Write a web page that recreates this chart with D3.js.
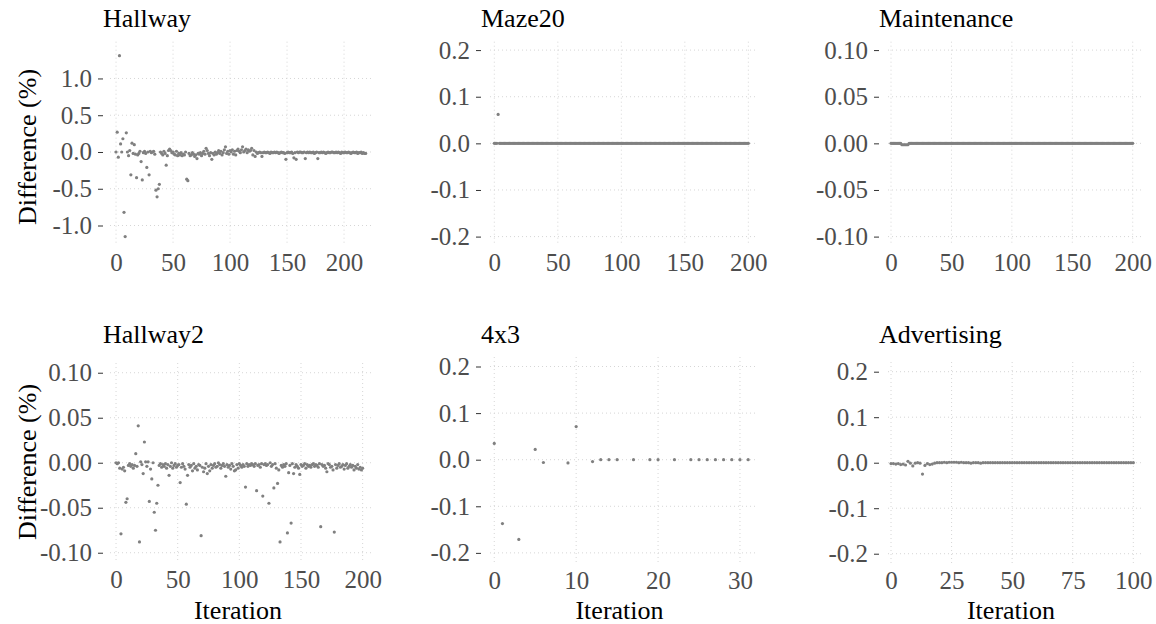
<!DOCTYPE html>
<html>
<head>
<meta charset="utf-8">
<script src="https://cdn.jsdelivr.net/npm/d3@7.9.0/dist/d3.min.js"></script>
</head>
<body style="margin:0">
<svg id="chart" width="1156" height="624" font-family="Liberation Serif"></svg>
<script>
// ---- data (difference in %, one value per iteration unless iterations given) ----
const hallwayDiff = [
  0.00, 0.27, -0.07, 1.31, 0.11, 0.00, 0.18, -0.82, -1.15, 0.26,
  0.00, -0.05, 0.02, -0.31, 0.12, -0.02, 0.10, -0.03, -0.35, -0.04,
  -0.02, 0.01, -0.13, -0.38, -0.01, 0.01, -0.02, -0.21, 0.00, -0.31,
  0.01, -0.01, 0.00, 0.01, -0.03, -0.52, -0.61, -0.50, -0.44, 0.00,
  -0.02, -0.04, 0.01, -0.02, -0.18, -0.05, 0.02, 0.04, 0.02, -0.01,
  0.00, -0.03, -0.04, 0.01, -0.05, -0.02, -0.04, -0.01, -0.05, -0.03,
  -0.04, 0.00, -0.37, -0.39, -0.02, -0.05, -0.04, -0.01, -0.03, -0.06,
  -0.04, -0.09, -0.02, -0.03, -0.01, -0.05, -0.02, 0.01, -0.03, 0.05,
  0.02, -0.02, -0.05, -0.01, -0.10, -0.02, -0.04, 0.00, -0.03, -0.01,
  0.02, -0.02, 0.01, -0.04, -0.01, 0.03, 0.07, -0.02, 0.01, -0.03,
  0.02, 0.00, 0.03, -0.03, 0.01, -0.04, 0.02, 0.04, 0.01, -0.01,
  0.03, 0.07, 0.00, 0.02, 0.04, -0.01, 0.03, 0.01, 0.02, 0.05,
  -0.04, 0.02, -0.06, 0.00, -0.02, -0.01, 0.00, -0.01, -0.06, -0.01,
  0.00, -0.01, -0.01, 0.00, -0.01, -0.02, 0.00, -0.01, -0.01, 0.00,
  -0.01, 0.00, -0.01, -0.02, -0.01, 0.00, -0.01, -0.01, -0.02, -0.10,
  -0.01, 0.00, -0.01, -0.01, 0.00, -0.02, -0.08, -0.01, -0.10, 0.00,
  -0.01, 0.00, 0.00, -0.01, -0.01, 0.00, -0.09, -0.01, 0.00, -0.01,
  0.00, -0.01, -0.01, 0.00, -0.02, -0.01, 0.00, -0.09, -0.01, -0.01,
  0.00, -0.01, 0.00, -0.01, -0.02, -0.01, 0.00, -0.01, -0.01, 0.00,
  0.00, -0.01, -0.01, 0.00, -0.01, 0.00, -0.01, -0.02, 0.00, -0.01,
  -0.01, 0.00, -0.01, -0.01, 0.00, -0.01, -0.02, -0.01, 0.00, -0.01,
  -0.01, 0.00, -0.02, -0.01, -0.01, 0.00, -0.02, -0.01, -0.02, -0.02
];

const maze20Diff = [
  0, 0, 0, 0.062, 0, 0, 0, 0, 0, 0, 0, 0, 0, 0, 0, 0, 0, 0, 0, 0,
  0, 0, 0, 0, 0, 0, 0, 0, 0, 0, 0, 0, 0, 0, 0, 0, 0, 0, 0, 0,
  0, 0, 0, 0, 0, 0, 0, 0, 0, 0, 0, 0, 0, 0, 0, 0, 0, 0, 0, 0,
  0, 0, 0, 0, 0, 0, 0, 0, 0, 0, 0, 0, 0, 0, 0, 0, 0, 0, 0, 0,
  0, 0, 0, 0, 0, 0, 0, 0, 0, 0, 0, 0, 0, 0, 0, 0, 0, 0, 0, 0,
  0, 0, 0, 0, 0, 0, 0, 0, 0, 0, 0, 0, 0, 0, 0, 0, 0, 0, 0, 0,
  0, 0, 0, 0, 0, 0, 0, 0, 0, 0, 0, 0, 0, 0, 0, 0, 0, 0, 0, 0,
  0, 0, 0, 0, 0, 0, 0, 0, 0, 0, 0, 0, 0, 0, 0, 0, 0, 0, 0, 0,
  0, 0, 0, 0, 0, 0, 0, 0, 0, 0, 0, 0, 0, 0, 0, 0, 0, 0, 0, 0,
  0, 0, 0, 0, 0, 0, 0, 0, 0, 0, 0, 0, 0, 0, 0, 0, 0, 0, 0, 0,
  0
];

const maintenanceDiff = [
  0, 0, 0, 0, 0, 0, 0, 0, 0, -0.0015, -0.0015, -0.0015, -0.0015, -0.0015, -0.0015, 0, 0, 0, 0, 0,
  0, 0, 0, 0, 0, 0, 0, 0, 0, 0, 0, 0, 0, 0, 0, 0, 0, 0, 0, 0,
  0, 0, 0, 0, 0, 0, 0, 0, 0, 0, 0, 0, 0, 0, 0, 0, 0, 0, 0, 0,
  0, 0, 0, 0, 0, 0, 0, 0, 0, 0, 0, 0, 0, 0, 0, 0, 0, 0, 0, 0,
  0, 0, 0, 0, 0, 0, 0, 0, 0, 0, 0, 0, 0, 0, 0, 0, 0, 0, 0, 0,
  0, 0, 0, 0, 0, 0, 0, 0, 0, 0, 0, 0, 0, 0, 0, 0, 0, 0, 0, 0,
  0, 0, 0, 0, 0, 0, 0, 0, 0, 0, 0, 0, 0, 0, 0, 0, 0, 0, 0, 0,
  0, 0, 0, 0, 0, 0, 0, 0, 0, 0, 0, 0, 0, 0, 0, 0, 0, 0, 0, 0,
  0, 0, 0, 0, 0, 0, 0, 0, 0, 0, 0, 0, 0, 0, 0, 0, 0, 0, 0, 0,
  0, 0, 0, 0, 0, 0, 0, 0, 0, 0, 0, 0, 0, 0, 0, 0, 0, 0, 0, 0,
  0
];

const hallway2Diff = [
  0.000, -0.001, 0.000, -0.006, -0.079, -0.007, -0.005, -0.009, -0.044, -0.040,
  -0.003, -0.001, -0.004, -0.002, -0.006, -0.003, 0.010, -0.004, 0.041, -0.088,
  0.001, -0.002, -0.012, 0.023, 0.001, -0.004, 0.001, -0.043, -0.007, -0.018,
  0.000, -0.055, -0.075, -0.045, -0.025, -0.003, -0.001, -0.005, -0.002, -0.004,
  -0.001, -0.006, -0.002, -0.014, -0.004, 0.000, -0.006, -0.003, -0.001, -0.005,
  -0.003, -0.002, -0.022, -0.005, -0.001, -0.004, -0.007, -0.046, -0.014, -0.002,
  -0.005, -0.003, -0.009, -0.001, -0.006, -0.004, -0.008, -0.002, -0.003, -0.081,
  -0.005, -0.010, -0.006, -0.001, -0.012, -0.004, -0.009, -0.002, -0.006, -0.003,
  -0.001, -0.005, -0.004, 0.000, -0.002, -0.006, -0.003, -0.001, -0.004, -0.015,
  -0.002, -0.005, -0.003, -0.007, -0.001, -0.004, -0.009, -0.008, -0.002, -0.006,
  -0.001, -0.003, -0.005, -0.002, -0.004, -0.027, -0.001, -0.004, -0.002, -0.003,
  -0.001, -0.002, -0.004, -0.001, -0.031, -0.003, -0.002, -0.005, -0.001, -0.037,
  -0.002, -0.001, -0.003, -0.002, -0.045, 0.000, -0.004, -0.002, -0.028, -0.001,
  -0.006, -0.023, -0.008, -0.088, -0.003, -0.005, -0.002, -0.004, -0.001, -0.078,
  -0.011, -0.003, -0.067, -0.001, -0.012, -0.005, -0.002, -0.004, -0.006, -0.013,
  -0.002, -0.004, -0.003, -0.001, -0.006, -0.002, -0.004, -0.003, -0.005, -0.002,
  -0.001, -0.004, -0.002, -0.003, -0.005, -0.001, -0.071, -0.002, -0.004, -0.003,
  -0.006, -0.010, -0.001, -0.002, -0.005, -0.004, -0.008, -0.077, -0.002, -0.006,
  -0.003, -0.001, -0.005, -0.004, -0.002, -0.007, -0.003, -0.001, -0.006, -0.004,
  -0.002, -0.005, -0.003, -0.008, -0.004, -0.006, -0.002, -0.007, -0.005, -0.008,
  -0.006
];

const fourByThreeIter = [0, 1, 3, 5, 6, 9, 10, 12, 13, 14, 15, 17, 19, 20, 22, 24, 25, 26, 27, 28, 29, 30, 31];
const fourByThreeDiff = [0.035, -0.137, -0.171, 0.022, -0.006, -0.007, 0.071, -0.004, 0, 0, 0, 0, 0, 0, 0, 0, 0, 0, 0, 0, 0, 0, 0];

const advertisingDiff = [
  -0.002, -0.002, -0.003, -0.002, -0.004, -0.003, -0.005, 0.003, -0.001, -0.007,
  -0.001, 0.000, -0.001, -0.025, -0.006, -0.002, -0.004, -0.003, -0.001, 0.000,
  0.000, 0.000, 0.001, 0.000, 0.001, 0.001, 0.001, 0.001, 0.000, 0.001,
  0.000, 0.000, 0.000, -0.001, 0.000, 0.000, 0.000, -0.001, 0.000, 0.000,
  0.000, 0.000, 0.000, 0.000, 0.000, 0.000, 0.000, 0.000, 0.000, 0.000,
  0.000, 0.000, 0.000, 0.000, 0.000, 0.000, 0.000, 0.000, 0.000, 0.000,
  0.000, 0.000, 0.000, 0.000, 0.000, 0.000, 0.000, 0.000, 0.000, 0.000,
  0.000, 0.000, 0.000, 0.000, 0.000, 0.000, 0.000, 0.000, 0.000, 0.000,
  0.000, 0.000, 0.000, 0.000, 0.000, 0.000, 0.000, 0.000, 0.000, 0.000,
  0.000, 0.000, 0.000, 0.000, 0.000, 0.000, 0.000, 0.000, 0.000, 0.000,
  0.000
];

// tick labels
const iterTicks200 = [0, 50, 100, 150, 200];
const iterTicks30 = [0, 10, 20, 30];
const iterTicks100 = [0, 25, 50, 75, 100];
const hallwayYTicks = [-1.0, -0.5, 0.0, 0.5, 1.0];
const pointTwoTicks = [-0.2, -0.1, 0.0, 0.1, 0.2];
const pointOneTicks = [-0.10, -0.05, 0.00, 0.05, 0.10];

// ---- layout ----
const FONT = "Liberation Serif";
const cols = [
  { left: 103, gridLeft: 110, right: 373 },
  { left: 481, gridLeft: 490, right: 758 },
  { left: 879, gridLeft: 888, right: 1143 }
];
const rowTitleY = [27, 343];
const yTitleCenter = [147, 462];

const panels = [
  { title: "Hallway", col: 0, row: 0, top: 41.7, bottom: 245, values: hallwayDiff,
    xDomain: [-5.3, 225.4], yDomain: [-1.265, 1.50], xTicks: iterTicks200, yTicks: hallwayYTicks, yFmt: ".1f" },
  { title: "Maze20", col: 1, row: 0, top: 41.7, bottom: 245, values: maze20Diff,
    xDomain: [-3.4, 207.6], yDomain: [-0.218, 0.218], xTicks: iterTicks200, yTicks: pointTwoTicks, yFmt: ".1f" },
  { title: "Maintenance", col: 2, row: 0, top: 41.7, bottom: 245, values: maintenanceDiff,
    xDomain: [-2.5, 208.5], yDomain: [-0.109, 0.109], xTicks: iterTicks200, yTicks: pointOneTicks, yFmt: ".2f" },
  { title: "Hallway2", col: 0, row: 1, top: 363, bottom: 562, values: hallway2Diff,
    xDomain: [-4.9, 208.4], yDomain: [-0.1103, 0.1108], xTicks: iterTicks200, yTicks: pointOneTicks, yFmt: ".2f" },
  { title: "4x3", col: 1, row: 1, top: 357, bottom: 563, values: fourByThreeDiff, iters: fourByThreeIter,
    xDomain: [-0.52, 32.2], yDomain: [-0.2217, 0.2204], xTicks: iterTicks30, yTicks: pointTwoTicks, yFmt: ".1f" },
  { title: "Advertising", col: 2, row: 1, top: 362, bottom: 563, values: advertisingDiff,
    xDomain: [-1.24, 104.0], yDomain: [-0.2204, 0.2213], xTicks: iterTicks100, yTicks: pointTwoTicks, yFmt: ".1f" }
];

const svg = d3.select("#chart");
const locale = d3.formatLocale({ decimal: ".", thousands: ",", grouping: [3], currency: ["", ""], minus: "-" });

panels.forEach(p => {
  const c = cols[p.col];
  const x = d3.scaleLinear().domain(p.xDomain).range([c.gridLeft, c.right]);
  const y = d3.scaleLinear().domain(p.yDomain).range([p.bottom, p.top]);
  const g = svg.append("g").attr("font-family", FONT);

  // dotted grid
  g.selectAll("line.hgrid").data(p.yTicks).enter().append("line")
    .attr("x1", c.gridLeft).attr("x2", c.right)
    .attr("y1", d => y(d)).attr("y2", d => y(d))
    .attr("stroke", "#d6d6d6").attr("stroke-width", 1).attr("stroke-dasharray", "1,3");
  g.selectAll("line.vgrid").data(p.xTicks).enter().append("line")
    .attr("x1", d => x(d)).attr("x2", d => x(d))
    .attr("y1", p.top).attr("y2", p.bottom)
    .attr("stroke", "#d6d6d6").attr("stroke-width", 1).attr("stroke-dasharray", "1,3");

  // y axis: ticks + labels
  const yAxis = d3.axisLeft(y).tickValues(p.yTicks).tickFormat(locale.format(p.yFmt))
    .tickSizeInner(5).tickSizeOuter(0).tickPadding(6);
  const ya = g.append("g").attr("transform", `translate(${c.left},0)`).call(yAxis);
  ya.attr("font-family", FONT).attr("font-size", 25);
  ya.select(".domain").remove();
  ya.selectAll("line").attr("stroke", "#333");
  ya.selectAll("text").attr("fill", "#4d4d4d").attr("font-family", FONT).attr("font-size", 25);

  // x axis: labels only
  const xAxis = d3.axisBottom(x).tickValues(p.xTicks).tickFormat(d3.format("d"))
    .tickSizeInner(0).tickSizeOuter(0).tickPadding(8);
  const xa = g.append("g").attr("transform", `translate(0,${p.bottom})`).call(xAxis);
  xa.attr("font-family", FONT).attr("font-size", 25);
  xa.select(".domain").remove();
  xa.selectAll("line").remove();
  xa.selectAll("text").attr("fill", "#4d4d4d").attr("font-family", FONT).attr("font-size", 25);

  // points
  const pts = p.values.map((v, i) => ({ it: p.iters ? p.iters[i] : i, v }));
  g.selectAll("circle").data(pts).enter().append("circle")
    .attr("cx", d => x(d.it)).attr("cy", d => y(d.v))
    .attr("r", 1.6).attr("fill", "#808080");

  // panel title
  g.append("text").attr("x", c.left).attr("y", rowTitleY[p.row])
    .attr("font-family", FONT).attr("font-size", 26).attr("fill", "#000").text(p.title);

  // axis titles
  if (p.col === 0) {
    g.append("text").attr("transform", `translate(36,${yTitleCenter[p.row]}) rotate(-90)`)
      .attr("text-anchor", "middle").attr("font-family", FONT).attr("font-size", 26)
      .attr("fill", "#000").text("Difference (%)");
  }
  if (p.row === 1) {
    g.append("text").attr("x", (c.left + c.right) / 2).attr("y", 619)
      .attr("text-anchor", "middle").attr("font-family", FONT).attr("font-size", 26)
      .attr("fill", "#000").text("Iteration");
  }
});
</script>
</body>
</html>
